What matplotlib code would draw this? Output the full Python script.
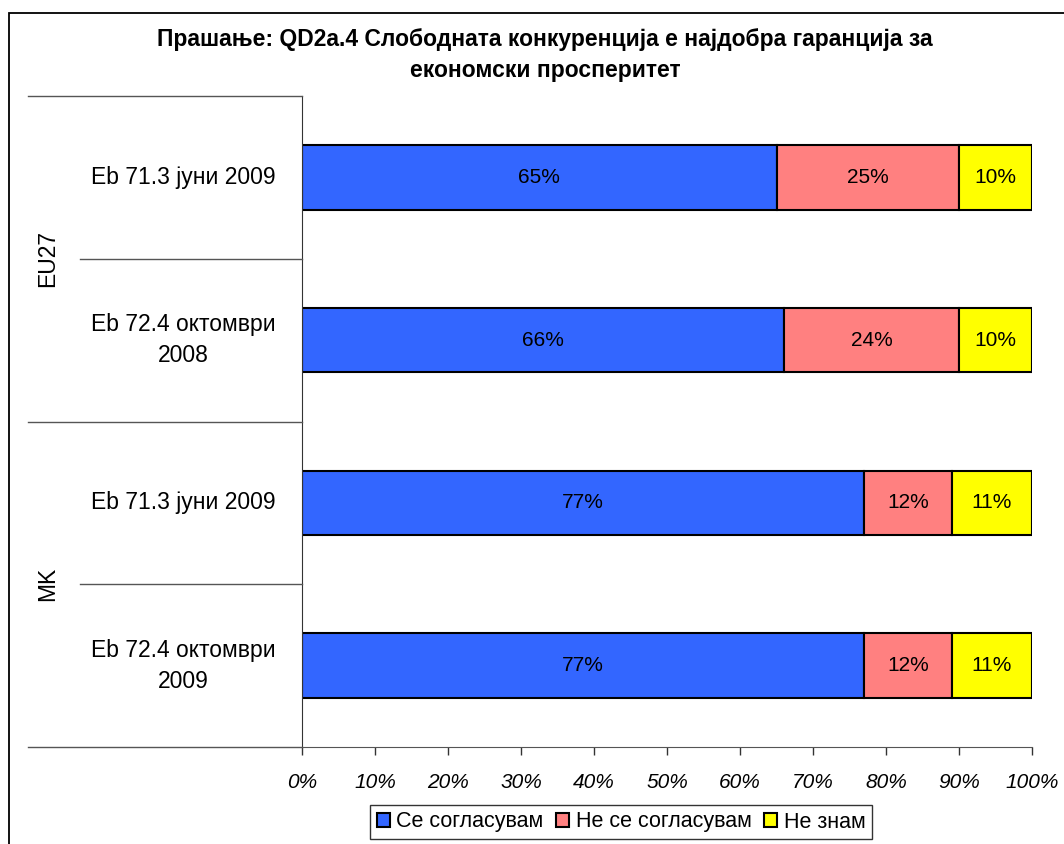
import numpy as np
import matplotlib.pyplot as plt
from matplotlib.patches import Patch, Rectangle
from matplotlib.lines import Line2D
from matplotlib.transforms import blended_transform_factory

plt.rcParams['font.family'] = ['Liberation Sans', 'DejaVu Sans']

# податоци
kategorii = ["Eb 71.3 јуни 2009", "Eb 72.4 октомври\n2008",
             "Eb 71.3 јуни 2009", "Eb 72.4 октомври\n2009"]
grupi = ["EU27", "MK"]
se_soglasuvam = [65, 66, 77, 77]
ne_se_soglasuvam = [25, 24, 12, 12]
ne_znam = [10, 10, 11, 11]
serii = ["Се согласувам", "Не се согласувам", "Не знам"]
boi = ["#3366FF", "#FF8080", "#FFFF00"]
naslov = "Прашање: QD2a.4 Слободната конкуренција е најдобра гаранција за\nекономски просперитет"

W, H = 1064, 844
fig = plt.figure(figsize=(W / 100, H / 100), dpi=100)

# надворешна рамка
fig.patches.append(Rectangle((9 / W, -0.05), 1.2, 1.05 - 13 / H, transform=fig.transFigure,
                             fill=False, edgecolor="black", linewidth=1.3))

ax = fig.add_axes([302 / W, 1 - 747 / H, 730 / W, 651 / H])

y = np.arange(len(kategorii))
vrednosti = [se_soglasuvam, ne_se_soglasuvam, ne_znam]
levo = np.zeros(len(kategorii))
for v, b in zip(vrednosti, boi):
    v = np.array(v)
    ax.barh(y, v, left=levo, height=0.395, color=b, edgecolor="black", linewidth=1.5)
    for yi, l, vi in zip(y, levo, v):
        ax.text(l + vi / 2, yi, f"{vi}%", ha="center", va="center", fontsize=15)
    levo = levo + v

ax.set_xlim(0, 100)
ax.set_ylim(3.5, -0.5)
ax.set_xticks(np.arange(0, 101, 10))
ax.set_xticklabels([f"{t}%" for t in range(0, 101, 10)], fontsize=15, style="italic")
ax.tick_params(axis="x", length=6, width=1, pad=13, color="#333333")
ax.set_yticks([])
for s in ["top", "right"]:
    ax.spines[s].set_visible(False)
ax.spines["left"].set_color("#333333")
ax.spines["bottom"].set_color("#555555")

# линии за категориите лево од оската
tr = blended_transform_factory(fig.transFigure, ax.transData)
for yl in [-0.5, 1.5, 3.5]:
    fig.add_artist(Line2D([28 / W, 302 / W], [yl, yl], transform=tr, color="#555555", linewidth=1))
for yl in [0.5, 2.5]:
    fig.add_artist(Line2D([80 / W, 302 / W], [yl, yl], transform=tr, color="#555555", linewidth=1))

for yi, k in zip(y, kategorii):
    fig.text(183 / W, yi, k, transform=tr, ha="center", va="center", fontsize=16.5,
             linespacing=1.45)
for i, g in enumerate(grupi):
    fig.text(48 / W, 0.5 + 2 * i, g, transform=tr, ha="center", va="center",
             rotation=90, fontsize=16.5)

fig.text(545 / W, 1 - 55 / H, naslov, ha="center", va="center", fontsize=16.5,
         fontweight="bold", linespacing=1.4)

rakovi = [Patch(facecolor=b, edgecolor="black", linewidth=1.5) for b in boi]
leg = fig.legend(rakovi, serii, loc="center", bbox_to_anchor=(621 / W, 1 - 822 / H),
                 ncol=3, fontsize=15.5, frameon=True, fancybox=False, handlelength=0.6,
                 handleheight=0.6, handletextpad=0.3, columnspacing=0.6,
                 borderpad=0.3, borderaxespad=0)
leg.get_frame().set_edgecolor("black")
leg.get_frame().set_linewidth(1)

fig.savefig("out.png", dpi=100)
